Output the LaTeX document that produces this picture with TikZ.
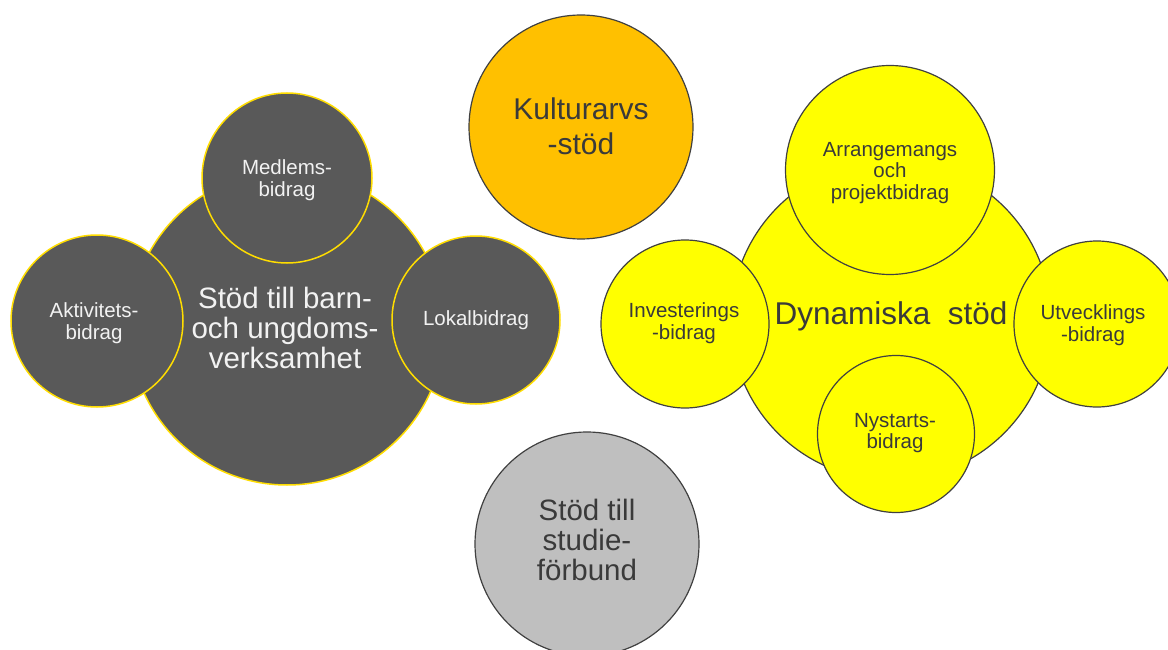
\documentclass[tikz,border=0pt]{standalone}
\usepackage{fontspec}
\setmainfont{Liberation Sans}
\definecolor{darkfill}{HTML}{595959}
\definecolor{goldring}{HTML}{FFDD00}
\definecolor{orangefill}{HTML}{FFC000}
\definecolor{yellowfill}{HTML}{FFFF00}
\definecolor{greyfill}{HTML}{BFBFBF}
\definecolor{ringgrey}{HTML}{404040}
\definecolor{txtdark}{HTML}{3A3A3A}
\definecolor{txtlight}{HTML}{F2F2F2}
\tikzset{
  bub/.style={circle, inner sep=0pt, minimum size=#1},
  darkbub/.style={bub=#1, fill=darkfill, draw=goldring, line width=1.5pt},
  yelbub/.style={bub=#1, fill=yellowfill, draw=ringgrey, line width=1.2pt},
  orabub/.style={bub=#1, fill=orangefill, draw=ringgrey, line width=1.2pt},
  grebub/.style={bub=#1, fill=greyfill, draw=ringgrey, line width=1.2pt},
  lbl/.style={inner sep=0pt, align=center},
  light/.style={lbl, text=txtlight},
  dark/.style={lbl, text=txtdark},
  small/.style={font=\fontsize{20.5}{21.5}\selectfont},
  large/.style={font=\fontsize{29.5}{30}\selectfont},
}
\begin{document}
\begin{tikzpicture}[x=1pt,y=-1pt]
\clip (0,0) rectangle (1168,650);
\fill[white] (0,0) rectangle (1168,650);
% left group
\node[darkbub=314pt] (barn) at (287,328) {};
\node[light, large] (barnT) at (285,328) {Stöd till barn-\\och ungdoms-\\verksamhet};
\node[darkbub=170pt] (medlem) at (287,178) {};
\node[light, small] (medlemT) at (287,180) {Medlems-\\bidrag};
\node[darkbub=172pt] (aktiv) at (97,321) {};
\node[light, small] (aktivT) at (94,323) {Aktivitets-\\bidrag};
\node[darkbub=168pt] (lokal) at (476,320) {};
\node[light, small] (lokalT) at (476,320) {Lokalbidrag};
% middle
\node[orabub=224pt] (kultur) at (581,127) {};
\node[dark, font=\fontsize{30}{35}\selectfont] (kulturT) at (581,126) {Kulturarvs\\-stöd};
\node[grebub=224pt] (studie) at (587,544) {};
\node[dark, large] (studieT) at (587,540) {Stöd till\\studie-\\förbund};
% right group
\node[yelbub=320pt] (dyn) at (891,320) {};
\node[dark, font=\fontsize{31.5}{32}\selectfont] (dynT) at (891,316) {Dynamiska\ \ stöd};
\node[yelbub=209pt] (arr) at (890,170) {};
\node[dark, small] (arrT) at (890,173) {Arrangemangs\\och\\projektbidrag};
\node[yelbub=168pt] (inv) at (685,324) {};
\node[dark, small] (invT) at (684,323) {Investerings\\-bidrag};
\node[yelbub=166pt] (utv) at (1097,324) {};
\node[dark, small] (utvT) at (1093,325) {Utvecklings\\-bidrag};
\node[yelbub=157pt] (ny) at (896,434) {};
\node[dark, small] (nyT) at (895,433) {Nystarts-\\bidrag};
\end{tikzpicture}
\end{document}
